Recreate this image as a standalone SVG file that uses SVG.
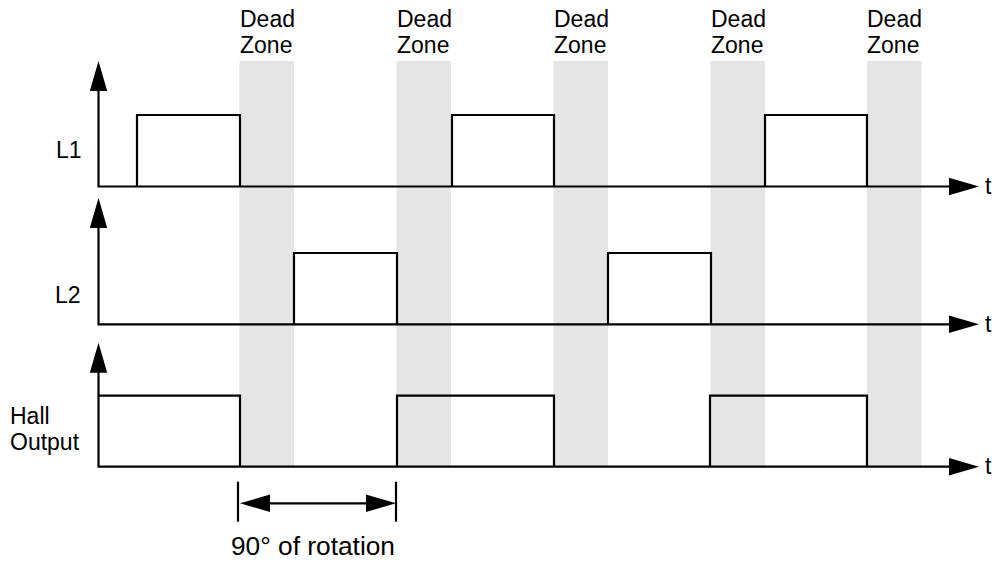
<svg xmlns="http://www.w3.org/2000/svg" width="992" height="561" viewBox="0 0 992 561">
<style>
text{font-family:"Liberation Sans",Arial,Helvetica,sans-serif;font-size:23px;fill:#000}
.dz{fill:#e5e5e5}
.ln{fill:none;stroke:#000;stroke-width:2.2}
.ah{fill:#000}
</style>
<defs>
<polygon id="up" points="0,0 -8.7,30 8.7,30" class="ah"/>
<polygon id="right" points="0,0 -30,-8.7 -30,8.7" class="ah"/>
</defs>
<g id="deadzones">
<rect class="dz" x="239.5" y="61" width="54.5" height="406"/>
<rect class="dz" x="396.5" y="61" width="54.5" height="406"/>
<rect class="dz" x="553.5" y="61" width="54.5" height="406"/>
<rect class="dz" x="710.5" y="61" width="54.5" height="406"/>
<rect class="dz" x="867" y="61" width="54.5" height="406"/>
<text x="240" y="27">Dead</text><text x="240" y="53">Zone</text>
<text x="397" y="27">Dead</text><text x="397" y="53">Zone</text>
<text x="554" y="27">Dead</text><text x="554" y="53">Zone</text>
<text x="711" y="27">Dead</text><text x="711" y="53">Zone</text>
<text x="867" y="27">Dead</text><text x="867" y="53">Zone</text>
</g>
<g id="L1">
<text x="56" y="158">L1</text>
<polyline class="ln" points="98.5,89 98.5,186.5 951,186.5"/>
<use href="#up" x="98.5" y="61"/>
<use href="#right" x="979" y="186.5"/>
<text x="985" y="194">t</text>
<polyline class="ln" points="137,186.5 137,115 240,115 240,186.5"/>
<polyline class="ln" points="452,186.5 452,115 554,115 554,186.5"/>
<polyline class="ln" points="765,186.5 765,115 867,115 867,186.5"/>
</g>
<g id="L2">
<text x="55" y="303">L2</text>
<polyline class="ln" points="98.5,226 98.5,324.3 951,324.3"/>
<use href="#up" x="98.5" y="198"/>
<use href="#right" x="979" y="324.3"/>
<text x="985" y="332">t</text>
<polyline class="ln" points="294,324.3 294,253 397,253 397,324.3"/>
<polyline class="ln" points="608,324.3 608,253 711,253 711,324.3"/>
</g>
<g id="Hall">
<text x="10" y="424">Hall</text>
<text x="10" y="450">Output</text>
<polyline class="ln" points="98.5,370 98.5,466.7 951,466.7"/>
<use href="#up" x="98.5" y="342.7"/>
<use href="#right" x="979" y="466.7"/>
<text x="985" y="474">t</text>
<polyline class="ln" points="98.5,395.7 240,395.7 240,466.7"/>
<polyline class="ln" points="397,466.7 397,395.7 554,395.7 554,466.7"/>
<polyline class="ln" points="710,466.7 710,395.7 867,395.7 867,466.7"/>
</g>
<g id="connectors">
<line class="ln" x1="238" y1="481.7" x2="238" y2="521.7"/>
<line class="ln" x1="396" y1="481.7" x2="396" y2="521.7"/>
<line class="ln" x1="265" y1="503.3" x2="370" y2="503.3"/>
<use href="#right" x="396" y="503.3"/>
<use href="#right" x="-240" y="503.3" transform="scale(-1,1)"/>
</g>
<g id="label">
<text x="231" y="555" style="font-size:25px" textLength="164" lengthAdjust="spacingAndGlyphs">90° of rotation</text>
</g>
</svg>
